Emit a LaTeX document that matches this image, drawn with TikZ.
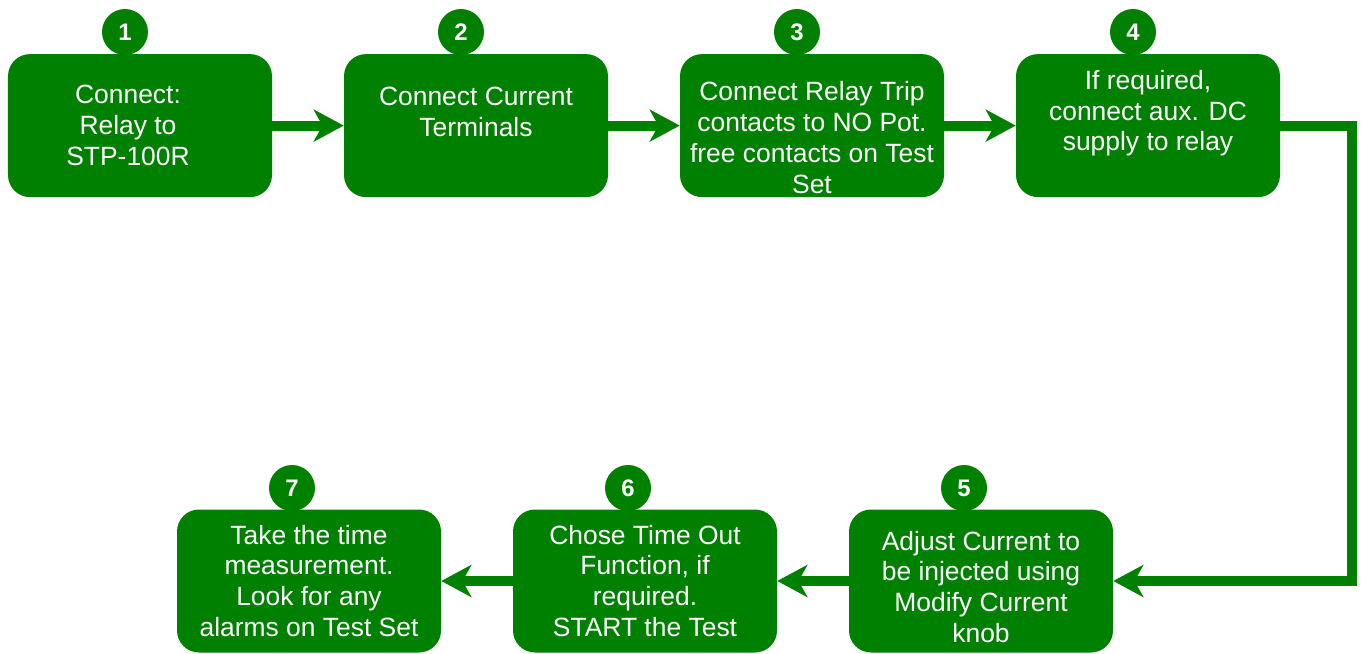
\documentclass[tikz,border=0pt]{standalone}
\usepackage{fontspec}
\setmainfont{Liberation Sans}
\usetikzlibrary{arrows.meta,calc}
\definecolor{stepgreen}{RGB}{0,128,0}

\begin{document}
\begin{tikzpicture}[
    stepbox/.style={fill=stepgreen, rounded corners=0.55cm, minimum width=6.6cm, minimum height=3.575cm, inner sep=0pt},
    steptext/.style={text=white, align=center, font=\fontsize{18.8}{22}\selectfont},
    badge/.style={circle, fill=stepgreen, minimum size=1.15cm, inner sep=0pt, text=white, font=\fontsize{17}{18}\selectfont\bfseries},
    flow/.style={draw=stepgreen, line width=0.25cm, -{Stealth[length=0.75cm, width=0.8cm, inset=0.22cm]}}
]
% Fix the page size (1363 x 653 px at 0.025 cm per px)
\useasboundingbox (0,0) rectangle (34.075,-16.325);

% Top row: steps 1 to 4
\node[stepbox] (b1) at (3.5,-3.14) {};
\node[steptext] (t1) at (3.2,-3.14) {Connect:\\Relay to\\STP-100R};
\node[badge] (n1) at (3.125,-0.8) {1};
\node[stepbox] (b2) at (11.9,-3.14) {};
\node[steptext] (t2) at (11.9,-2.8) {Connect Current\\Terminals};
\node[badge] (n2) at (11.525,-0.8) {2};
\node[stepbox] (b3) at (20.3,-3.14) {};
\node[steptext] (t3) at (20.3,-3.44) {Connect Relay Trip\\contacts to NO Pot.\\free contacts on Test\\Set};
\node[badge] (n3) at (19.925,-0.8) {3};
\node[stepbox] (b4) at (28.7,-3.14) {};
\node[steptext] (t4) at (28.7,-2.83) {If required,\\connect aux. DC\\supply to relay};
\node[badge] (n4) at (28.325,-0.8) {4};

% Bottom row: steps 5 to 7
\node[stepbox] (b5) at (24.525,-14.525) {};
\node[steptext] (t5) at (24.525,-14.675) {Adjust Current to\\be injected using\\Modify Current\\knob};
\node[badge] (n5) at (24.1,-12.2) {5};
\node[stepbox] (b6) at (16.125,-14.525) {};
\node[steptext] (t6) at (16.125,-14.525) {Chose Time Out\\Function, if\\required.\\START the Test};
\node[badge] (n6) at (15.7,-12.2) {6};
\node[stepbox] (b7) at (7.725,-14.525) {};
\node[steptext] (t7) at (7.725,-14.525) {Take the time\\measurement.\\Look for any\\alarms on Test Set};
\node[badge] (n7) at (7.3,-12.2) {7};

% Connectors
\coordinate (turn) at (33.8,-3.14);
\draw[flow] (b1.east) -- (b2.west);
\draw[flow] (b2.east) -- (b3.west);
\draw[flow] (b3.east) -- (b4.west);
\draw[flow] (b4.east) -- (turn) |- (b5.east);
\draw[flow] (b5.west) -- (b6.east);
\draw[flow] (b6.west) -- (b7.east);
\end{tikzpicture}
\end{document}
